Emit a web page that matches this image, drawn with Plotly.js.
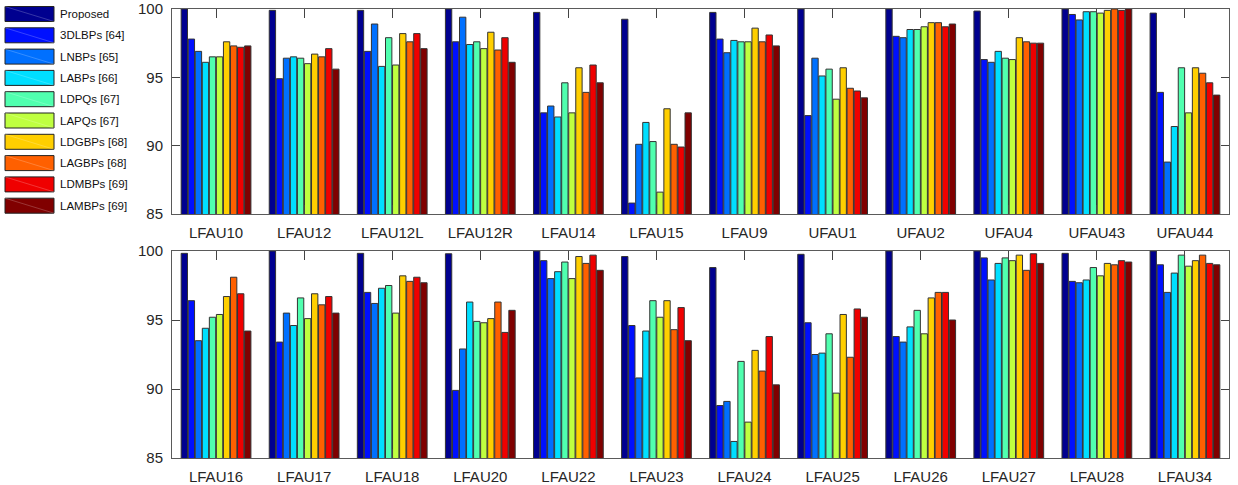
<!DOCTYPE html>
<html>
<head>
<meta charset="utf-8">
<script src="https://cdn.plot.ly/plotly-3.0.1.min.js"></script>
<style>html,body{margin:0;padding:0;background:#fff;}#chart{width:1238px;height:485px;}</style>
</head>
<body>
<div id="chart"></div>
<script>
// Categories
const categoriesTop = ["LFAU10","LFAU12","LFAU12L","LFAU12R","LFAU14","LFAU15","LFAU9","UFAU1","UFAU2","UFAU4","UFAU43","UFAU44"];
const categoriesBottom = ["LFAU16","LFAU17","LFAU18","LFAU20","LFAU22","LFAU23","LFAU24","LFAU25","LFAU26","LFAU27","LFAU28","LFAU34"];

// Series names
const seriesNames = ["Proposed","3DLBPs [64]","LNBPs [65]","LABPs [66]","LDPQs [67]","LAPQs [67]","LDGBPs [68]","LAGBPs [68]","LDMBPs [69]","LAMBPs [69]"];

// Values: first 12 = top row categories, last 12 = bottom row categories
const proposed = [100, 99.9, 99.9, 100, 99.75, 99.25, 99.75, 100, 100, 99.85, 100, 99.7,
                  99.83, 100, 99.83, 99.8, 100, 99.6, 98.8, 99.76, 100, 100, 99.83, 100];
const dlbp3d   = [97.8, 94.9, 96.9, 97.6, 92.4, 85.8, 97.8, 92.2, 98.0, 96.3, 99.6, 93.9,
                  96.4, 93.4, 97.0, 89.9, 99.3, 94.6, 88.8, 94.8, 93.8, 99.5, 97.8, 99.0];
const lnbp     = [96.9, 96.4, 98.9, 99.4, 92.9, 90.1, 96.8, 96.4, 97.9, 96.1, 99.2, 88.8,
                  93.5, 95.5, 96.2, 92.9, 98.0, 90.8, 89.1, 92.5, 93.4, 97.9, 97.7, 97.0];
const labp     = [96.1, 96.5, 95.8, 97.4, 92.1, 91.7, 97.7, 95.1, 98.5, 96.9, 99.8, 91.4,
                  94.4, 94.6, 97.3, 96.3, 98.5, 94.2, 86.2, 92.6, 94.5, 99.1, 97.9, 98.4];
const ldpq     = [96.5, 96.4, 97.9, 97.6, 94.6, 90.3, 97.6, 95.6, 98.5, 96.4, 99.8, 95.7,
                  95.2, 96.6, 97.5, 94.9, 99.2, 96.4, 92.0, 94.0, 95.7, 99.5, 98.8, 99.7];
const lapq     = [96.5, 96.0, 95.9, 97.1, 92.4, 86.6, 97.6, 93.4, 98.7, 96.3, 99.7, 92.4,
                  95.4, 95.1, 95.5, 94.8, 98.0, 95.2, 87.6, 89.7, 94.0, 99.3, 98.2, 98.9];
const ldgbp    = [97.6, 96.7, 98.2, 98.3, 95.7, 92.7, 98.6, 95.7, 99.0, 97.9, 99.9, 95.7,
                  96.7, 96.9, 98.2, 95.1, 99.6, 96.4, 92.8, 95.4, 96.6, 99.7, 99.1, 99.3];
const lagbp    = [97.3, 96.5, 97.6, 97.0, 93.9, 90.1, 97.6, 94.2, 99.0, 97.6, 100, 95.3,
                  98.1, 96.1, 97.8, 96.3, 99.1, 94.3, 91.3, 92.3, 97.0, 98.6, 99.0, 99.7];
const ldmbp    = [97.2, 97.1, 98.2, 97.9, 95.9, 89.9, 98.1, 94.0, 98.7, 97.5, 99.9, 94.6,
                  96.9, 96.7, 98.1, 94.1, 99.7, 95.9, 93.8, 95.8, 97.0, 99.8, 99.3, 99.1];
const lambp    = [97.3, 95.6, 97.1, 96.1, 94.6, 92.4, 97.3, 93.5, 98.9, 97.5, 100, 93.7,
                  94.2, 95.5, 97.7, 95.7, 98.6, 93.5, 90.3, 95.2, 95.0, 99.1, 99.2, 99.0];

const seriesValues = [proposed, dlbp3d, lnbp, labp, ldpq, lapq, ldgbp, lagbp, ldmbp, lambp];
const seriesColors = ["#00008f","#0010ff","#0070ff","#00dfff","#50ffaf","#bfff40","#ffcf00","#ff6000","#ef0000","#800000"];
const yTicks = [85, 90, 95, 100];

const traces = [];
seriesValues.forEach((vals, i) => {
  const common = {type: "bar", name: seriesNames[i], showlegend: false,
    marker: {color: seriesColors[i], line: {color: "#333", width: 1}}, hoverinfo: "x+y+name"};
  traces.push(Object.assign({}, common, {x: categoriesTop, y: vals.slice(0, 12), xaxis: "x", yaxis: "y"}));
  traces.push(Object.assign({}, common, {x: categoriesBottom, y: vals.slice(12), xaxis: "x2", yaxis: "y2"}));
});

const W = 1238, H = 485, ML = 172, MR = 9, MT = 9, MB = 27;
const pw = W - ML - MR, ph = H - MT - MB;
const px2x = p => (p - ML) / pw;
const py2y = p => (H - MB - p) / ph;

const xaxisBase = {
  type: "category", range: [-0.5, 11.5], showgrid: false, zeroline: false,
  showline: true, linecolor: "#5a5a5a", linewidth: 1, mirror: "ticks",
  ticks: "inside", ticklen: 9, tickcolor: "#444", tickwidth: 1,
  tickfont: {family: "Liberation Sans, Arial, sans-serif", size: 15, color: "#262626"},
  ticklabelstandoff: 5, fixedrange: true
};
const yaxisBase = {
  range: [85, 100], tickvals: yTicks, ticktext: yTicks.map(String),
  showgrid: false, zeroline: false, showline: true, linecolor: "#5a5a5a", linewidth: 1,
  mirror: "ticks", ticks: "inside", ticklen: 8, tickcolor: "#444",
  tickfont: {family: "Liberation Sans, Arial, sans-serif", size: 15, color: "#262626"},
  ticklabelstandoff: 5, fixedrange: true
};

const shapes = [], annotations = [];
// Custom legend (MATLAB-style wide swatches)
seriesNames.forEach((name, i) => {
  const cy = 14 + i * 21.3;
  const x0 = px2x(5), x1 = px2x(54), yTop = py2y(cy - 7.5), yBot = py2y(cy + 7.5);
  shapes.push({type: "rect", xref: "paper", yref: "paper", x0: x0, x1: x1, y0: yBot, y1: yTop,
    fillcolor: seriesColors[i], line: {color: "#222", width: 1}});
  shapes.push({type: "line", xref: "paper", yref: "paper", x0: x0, x1: x1, y0: yTop, y1: yBot,
    line: {color: "rgba(255,255,255,0.35)", width: 0.6}});
  annotations.push({xref: "paper", yref: "paper", x: px2x(58), y: py2y(cy), xanchor: "left", yanchor: "middle",
    text: name, showarrow: false, font: {family: "Liberation Sans, Arial, sans-serif", size: 11.5, color: "#111"}});
});

const layout = {
  width: W, height: H,
  margin: {l: ML, r: MR, t: MT, b: MB, pad: 0},
  paper_bgcolor: "#fff", plot_bgcolor: "#fff",
  barmode: "group", bargap: 0.2, bargroupgap: 0.1,
  showlegend: false,
  xaxis: Object.assign({}, xaxisBase, {anchor: "y", domain: [0, 1]}),
  yaxis: Object.assign({}, yaxisBase, {anchor: "x", domain: [py2y(214), 1]}),
  xaxis2: Object.assign({}, xaxisBase, {anchor: "y2", domain: [0, 1]}),
  yaxis2: Object.assign({}, yaxisBase, {anchor: "x2", domain: [0, py2y(251)]}),
  shapes: shapes, annotations: annotations
};

Plotly.newPlot("chart", traces, layout, {displayModeBar: false, staticPlot: true});
</script>
</body>
</html>
